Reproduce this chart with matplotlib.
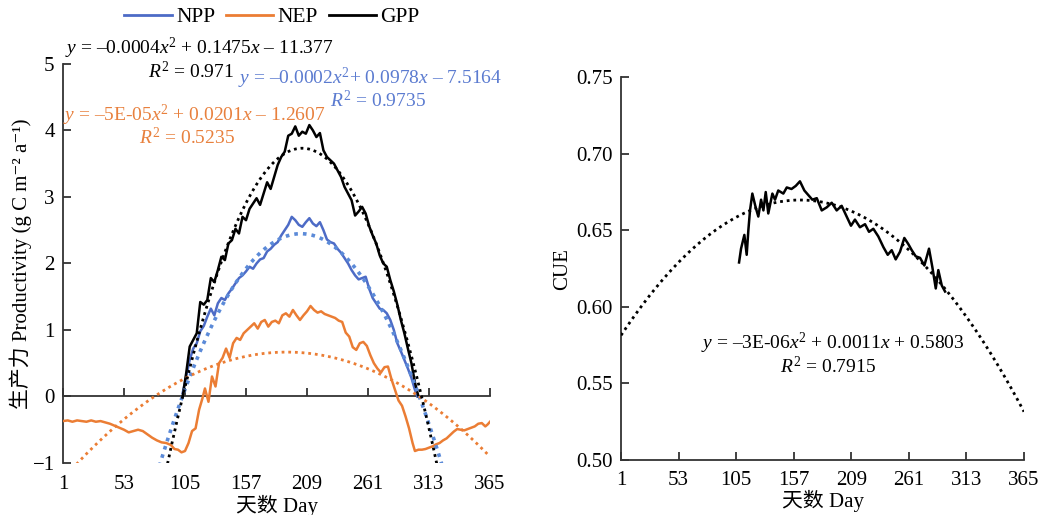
import numpy as np
import matplotlib
matplotlib.use('Agg')
import matplotlib.pyplot as plt
from matplotlib.lines import Line2D

plt.rcParams['font.family'] = ['Liberation Serif', 'Noto Sans CJK SC', 'DejaVu Sans']
plt.rcParams['mathtext.fontset'] = 'custom'
plt.rcParams['mathtext.rm'] = 'Liberation Serif'
plt.rcParams['mathtext.it'] = 'Liberation Serif:italic'
plt.rcParams['axes.unicode_minus'] = True

# daily productivity (g C m-2 a-1)
gpp_day = [103, 106, 109, 112, 115, 118, 121, 124, 127, 130, 133, 136, 139, 142, 145, 148,
           151, 154, 157, 160, 163, 166, 169, 172, 175, 178, 181, 184, 187, 190, 193, 196,
           199, 202, 205, 208, 211, 214, 217, 220, 223, 226, 229, 232, 235, 238, 241, 244,
           247, 250, 253, 256, 259, 262, 265, 268, 271, 274, 277, 280, 283, 286, 289, 292,
           295, 298, 301, 304]
gpp = [0.00, 0.35, 0.75, 0.85, 0.95, 1.42, 1.38, 1.45, 1.78, 1.72, 1.90, 2.10, 2.05, 2.30, 2.35, 2.52,
       2.45, 2.70, 2.65, 2.82, 2.90, 2.98, 2.88, 3.05, 3.22, 3.12, 3.30, 3.48, 3.60, 3.68, 3.92, 3.95,
       4.06, 3.92, 3.98, 3.95, 4.08, 4.00, 3.90, 3.96, 3.70, 3.60, 3.55, 3.50, 3.40, 3.30, 3.15, 3.05,
       2.95, 2.72, 2.78, 2.85, 2.75, 2.56, 2.42, 2.30, 2.12, 2.00, 1.95, 1.75, 1.58, 1.38, 1.15, 0.95,
       0.72, 0.50, 0.21, 0.00]

npp_day = [103, 106, 109, 112, 115, 118, 121, 124, 127, 130, 133, 136, 139, 142, 145, 148,
           151, 154, 157, 160, 163, 166, 169, 172, 175, 178, 181, 184, 187, 190, 193, 196,
           199, 202, 205, 208, 211, 214, 217, 220, 223, 226, 229, 232, 235, 238, 241, 244,
           247, 250, 253, 256, 259, 262, 265, 268, 271, 274, 277, 280, 283, 286, 289, 292,
           295, 298, 301, 303]
npp = [0.05, 0.30, 0.55, 0.72, 0.80, 0.98, 1.06, 1.20, 1.32, 1.22, 1.40, 1.48, 1.45, 1.55, 1.62, 1.70,
       1.78, 1.82, 1.88, 1.95, 1.92, 2.00, 2.06, 2.08, 2.18, 2.22, 2.28, 2.32, 2.42, 2.50, 2.58, 2.70,
       2.65, 2.58, 2.55, 2.62, 2.68, 2.60, 2.56, 2.62, 2.50, 2.36, 2.32, 2.30, 2.22, 2.16, 2.08, 2.00,
       1.90, 1.82, 1.76, 1.78, 1.80, 1.62, 1.48, 1.40, 1.32, 1.30, 1.25, 1.15, 1.00, 0.80, 0.68, 0.55,
       0.42, 0.28, 0.10, 0.00]

nep_day = [1, 5, 9, 13, 17, 21, 25, 29, 33, 37, 41, 45, 49, 53, 57, 61, 65, 69, 73, 77, 81, 85,
           89, 93, 96, 99, 102, 105, 108, 111, 114, 117, 120, 122, 125, 128, 131, 134, 137, 140,
           143, 146, 149, 152, 155, 158, 161, 164, 167, 170, 173, 176, 179, 182, 185, 188, 191,
           194, 197, 200, 203, 206, 209, 212, 215, 218, 221, 224, 227, 230, 233, 236, 239, 242,
           245, 248, 251, 254, 257, 260, 263, 266, 269, 272, 275, 278, 281, 284, 287, 290, 293,
           296, 299, 301, 304, 307, 310, 313, 316, 319, 322, 325, 328, 331, 334, 337, 340, 343,
           346, 349, 352, 355, 358, 361, 363, 365]
nep = [-0.37, -0.36, -0.38, -0.36, -0.37, -0.38, -0.36, -0.38, -0.37, -0.39, -0.41, -0.44,
       -0.47, -0.50, -0.54, -0.52, -0.50, -0.52, -0.57, -0.62, -0.66, -0.69, -0.70, -0.73,
       -0.79, -0.80, -0.84, -0.82, -0.70, -0.52, -0.48, -0.20, -0.02, 0.12, -0.08, 0.30, 0.15,
       0.50, 0.58, 0.72, 0.58, 0.80, 0.88, 0.85, 0.95, 1.00, 1.05, 1.10, 1.02, 1.12, 1.15,
       1.05, 1.12, 1.14, 1.10, 1.22, 1.25, 1.20, 1.30, 1.22, 1.15, 1.22, 1.28, 1.36, 1.30,
       1.26, 1.28, 1.24, 1.22, 1.20, 1.18, 1.14, 1.12, 0.96, 0.90, 0.74, 0.70, 0.80, 0.82,
       0.76, 0.62, 0.50, 0.42, 0.36, 0.44, 0.45, 0.26, 0.10, -0.06, -0.14, -0.30, -0.48,
       -0.70, -0.82, -0.80, -0.80, -0.79, -0.77, -0.75, -0.72, -0.70, -0.66, -0.63, -0.58,
       -0.53, -0.49, -0.50, -0.51, -0.49, -0.47, -0.45, -0.41, -0.40, -0.45, -0.42, -0.38]

# carbon use efficiency
cue_day = [107.6, 109.4, 112.4, 114.5, 116, 117.5, 119.6, 122.6, 125, 127.5, 129.6, 131.7,
           134, 137.7, 140.1, 143, 147.6, 150.7, 155, 158.8, 162.6, 166.6, 170.2, 173.8,
           177.8, 182.3, 186.8, 191.3, 195.8, 200.3, 204.8, 208.7, 212.3, 216.8, 221.4, 225,
           228.9, 233.4, 238, 241.9, 245.5, 249.1, 253, 256.9, 260.5, 263.6, 267.2, 271.1,
           275, 279.2, 282.2, 285.3, 287.6, 290.7, 293.7]
cue = [0.629, 0.638, 0.647, 0.634, 0.650, 0.663, 0.674, 0.665, 0.659, 0.670, 0.663, 0.675,
       0.661, 0.674, 0.670, 0.676, 0.674, 0.678, 0.677, 0.679, 0.682, 0.676, 0.673, 0.670,
       0.671, 0.663, 0.665, 0.668, 0.663, 0.666, 0.659, 0.653, 0.657, 0.652, 0.654, 0.649,
       0.651, 0.646, 0.639, 0.634, 0.637, 0.631, 0.636, 0.645, 0.641, 0.637, 0.633, 0.632,
       0.627, 0.638, 0.626, 0.612, 0.624, 0.614, 0.610]

# quadratic trendline coefficients (a, b, c) for a*x^2 + b*x + c
gpp_fit = [-3.6e-4, 0.1475, -11.377]
npp_fit = [-2.4e-4, 0.0978, -7.5164]
nep_fit = [-5.24e-5, 0.0201, -1.2607]
cue_fit = [-3.38e-6, 0.0011, 0.5803]

day_ticks = [1, 53, 105, 157, 209, 261, 313, 365]

c_npp = '#4d6bc6'
c_npp_fit = '#5b8ad8'
c_nep = '#eb7d34'
c_gpp = 'black'
axis_c = '#333333'

fig = plt.figure(figsize=(10.45, 5.15), dpi=100)
ax1 = fig.add_axes([0.0603, 0.101, 0.4086, 0.775])
ax2 = fig.add_axes([0.5943, 0.107, 0.3856, 0.743])

xs = np.linspace(1, 365, 400)

# left panel: productivity
ax1.plot(npp_day, npp, color=c_npp, lw=1.8, zorder=3)
ax1.plot(nep_day, nep, color=c_nep, lw=1.8, zorder=3)
ax1.plot(gpp_day, gpp, color=c_gpp, lw=1.8, zorder=3)

for p, col, lw in [(npp_fit, c_npp_fit, 2.6), (nep_fit, c_nep, 2.0), (gpp_fit, c_gpp, 2.0)]:
    ax1.plot(xs, np.polyval(p, xs), color=col, lw=lw, ls=(0, (1, 1.4)), zorder=4)

ax1.set_xlim(1, 365)
ax1.set_ylim(-1, 5)
ax1.set_yticks(range(-1, 6))
ax1.spines['bottom'].set_position(('data', 0))
for s in ['top', 'right']:
    ax1.spines[s].set_visible(False)
for s in ['left', 'bottom']:
    ax1.spines[s].set_color(axis_c)
    ax1.spines[s].set_linewidth(1.3)
ax1.set_xticks(day_ticks)
ax1.tick_params(axis='x', direction='in', length=6, width=1.3, color=axis_c, labelbottom=False)
ax1.tick_params(axis='y', direction='in', length=6, width=1.3, color=axis_c, labelsize=15, pad=6)

# day labels sit under the plot, the axis line itself crosses at zero
sec = ax1.secondary_xaxis('bottom')
sec.set_xticks(day_ticks)
sec.spines['bottom'].set_visible(False)
sec.tick_params(length=0, labelsize=15, pad=9)
sec.set_xlabel('天数 Day', fontsize=15, labelpad=0)
ax1.set_ylabel('生产力 Productivity (g C m⁻² a⁻¹)', fontsize=15, labelpad=0.5)

fs = 14
W, H = 1045.0, 515.0


def label(px, py, s, color='black'):
    fig.text(px / W, 1 - py / H, s, fontsize=fs, ha='center', va='center', color=color)


label(199, 48, r'$y$ = –0.0004$x^2$ + 0.1475$x$ – 11.377')
label(191, 71, r'$R^2$ = 0.971')
label(370, 78, r'$y$ = –0.0002$x^2$+ 0.0978$x$ – 7.5164', '#5b7bd0')
label(378, 100, r'$R^2$ = 0.9735', '#5b7bd0')
label(194.5, 115, r'$y$ = –5E-05$x^2$ + 0.0201$x$ – 1.2607', '#e8803d')
label(187.5, 137, r'$R^2$ = 0.5235', '#e8803d')

handles = [Line2D([], [], color=c_npp, lw=2), Line2D([], [], color=c_nep, lw=2),
           Line2D([], [], color=c_gpp, lw=2)]
fig.legend(handles, ['NPP', 'NEP', 'GPP'], loc='center', bbox_to_anchor=(272 / W, 1 - 17 / H), ncol=3,
           frameon=False, fontsize=15.5, handlelength=2.2, handletextpad=0.2, columnspacing=0.5)

# right panel: CUE
ax2.plot(cue_day, cue, color='black', lw=1.8, zorder=3)
ax2.plot(xs, np.polyval(cue_fit, xs), color='black', lw=2.0, ls=(0, (1, 1.4)), zorder=4)
ax2.set_xlim(1, 365)
ax2.set_ylim(0.5, 0.75)
ax2.set_xticks(day_ticks)
ax2.set_yticks([0.50, 0.55, 0.60, 0.65, 0.70, 0.75])
ax2.set_yticklabels(['0.50', '0.55', '0.60', '0.65', '0.70', '0.75'])
for s in ['top', 'right']:
    ax2.spines[s].set_visible(False)
for s in ['left', 'bottom']:
    ax2.spines[s].set_color(axis_c)
    ax2.spines[s].set_linewidth(1.3)
ax2.tick_params(direction='in', length=6, width=1.3, color=axis_c, labelsize=15)
ax2.tick_params(axis='x', pad=8)
ax2.tick_params(axis='y', pad=6)
ax2.set_xlabel('天数 Day', fontsize=15, labelpad=0)
ax2.set_ylabel('CUE', fontsize=15, labelpad=3)
label(833, 343, r'$y$ = –3E-06$x^2$ + 0.0011$x$ + 0.5803')
label(828, 367, r'$R^2$ = 0.7915')

fig.savefig('out.png', dpi=100)
